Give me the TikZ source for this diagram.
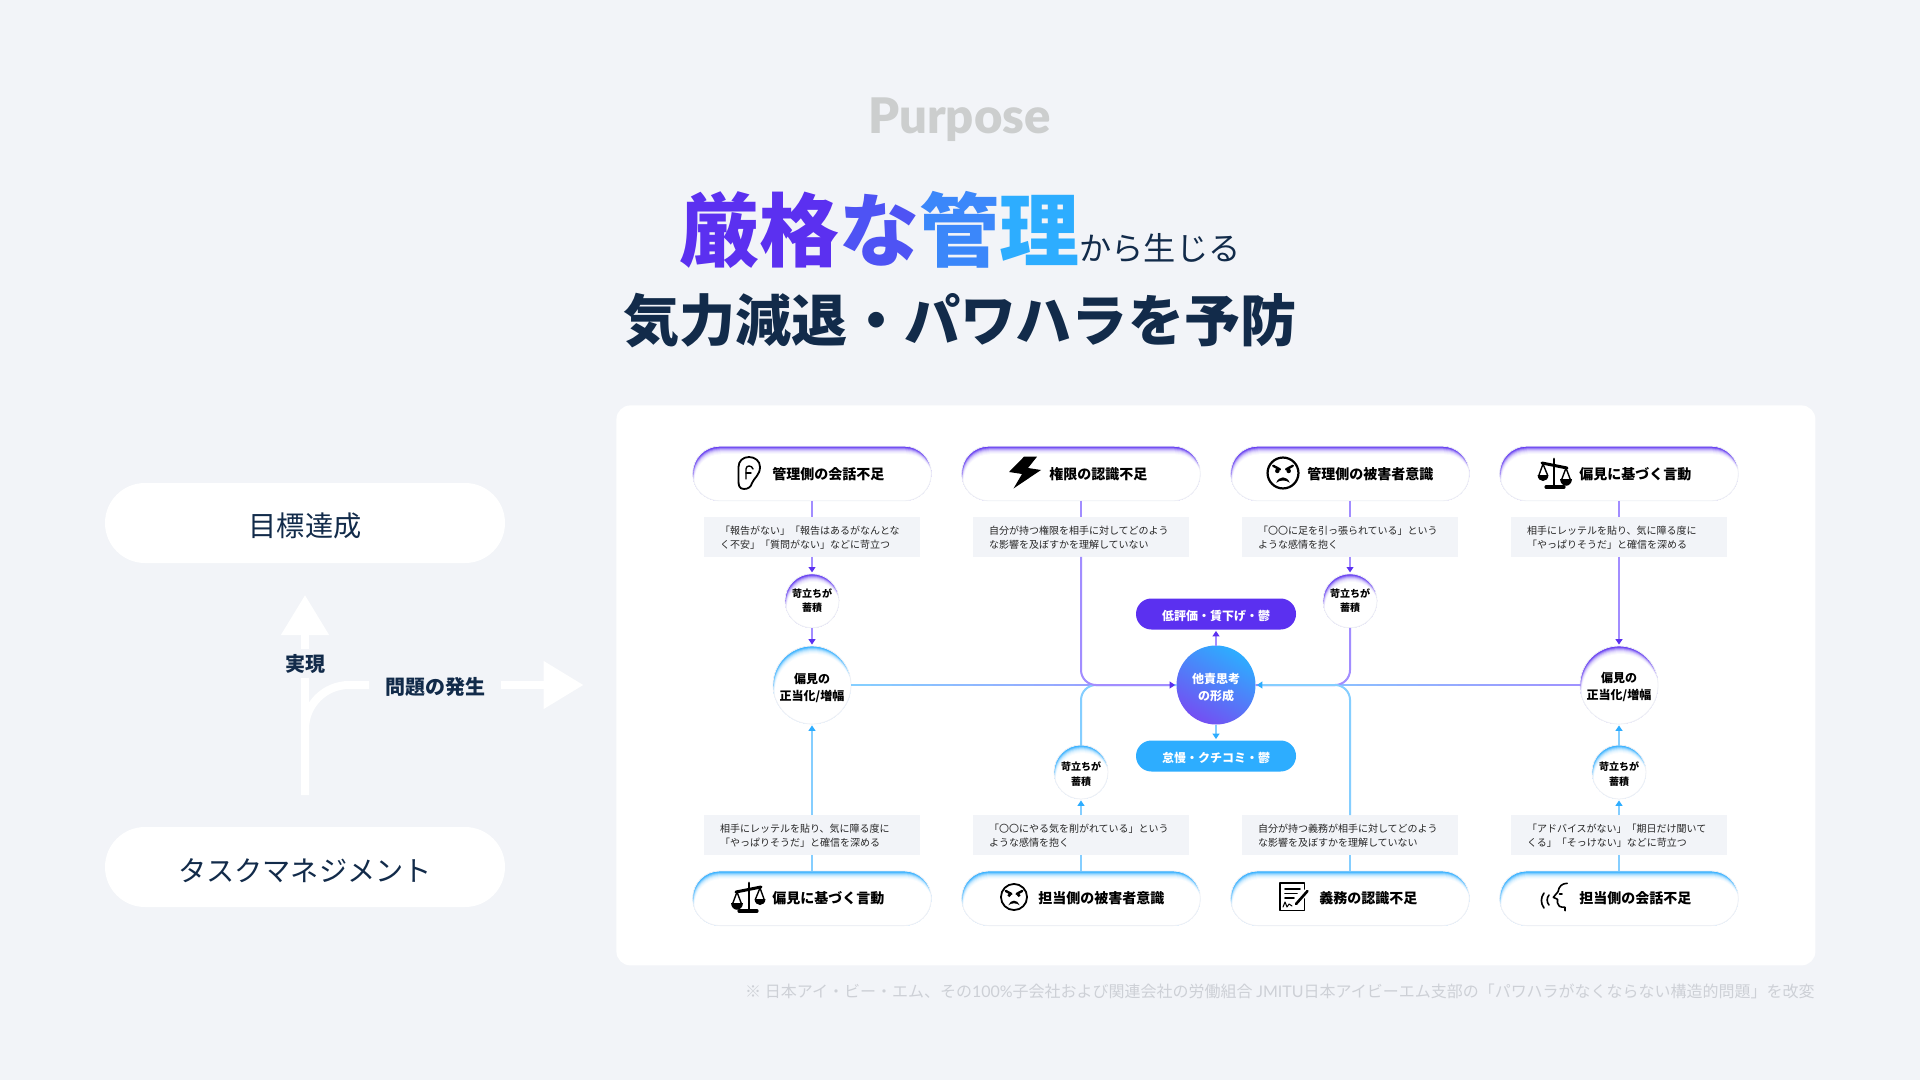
\documentclass[tikz,border=0pt]{standalone}
\usepackage{fontspec}
\setmainfont{Noto Sans CJK JP}
\newfontfamily\latinfont{Lato}
\newfontfamily\latinheavy{Lato Black}
\newfontfamily\heavyfont{Noto Sans CJK JP Black}
\usetikzlibrary{positioning,arrows.meta,calc}
\definecolor{pagebg}{HTML}{F2F4F8}
\definecolor{navy}{HTML}{122B4A}
\definecolor{violetdeep}{HTML}{5B30F0}
\definecolor{skydeep}{HTML}{2DADFF}
\definecolor{violetline}{HTML}{A28DFF}
\definecolor{skyline}{HTML}{85CEFF}
\definecolor{ringgray}{HTML}{EEF0F5}
\definecolor{fadedgray}{HTML}{CCCECE}
\definecolor{sourcegray}{HTML}{CDD0D6}
\newcommand{\dropin}[1]{\rule{0pt}{#1}}
\tikzset{
  glow/.style 2 args = {path picture={
      \fill[#1] (path picture bounding box.south west) rectangle (path picture bounding box.north east);
      \foreach \k/\tint in {1/85,2/62,3/42,4/27,5/16,6/9,7/4,8/0}{
        \fill[#1!\tint!white, rounded corners=#2]
          ($(path picture bounding box.north west)+(0.22*\k,\k)$) rectangle
          ($(path picture bounding box.south east)+(0.22*\k,70)$);
      }}},
  drop/.style    = {execute at begin node={\rule{0pt}{#1}}},
  capsule/.style = {rectangle, rounded corners=13.5pt, draw=ringgray, line width=.4pt, fill=white,
                    minimum width=119.3pt, minimum height=27.3pt, inner sep=0pt, outer sep=0pt},
  caplabel/.style= {anchor=west, inner sep=0pt, font=\fontsize{7}{9}\selectfont\bfseries, text=black},
  note/.style    = {rectangle, fill=pagebg, minimum width=108pt, minimum height=20pt, inner sep=0pt,
                    outer sep=0pt, text width=92pt, align=left, font=\fontsize{5}{7.15}\selectfont, text=black!85,
                    drop=5pt},
  tiny/.style    = {circle, draw=ringgray, line width=.4pt, fill=white, minimum size=27pt, inner sep=0pt,
                    outer sep=0pt, align=center, font=\fontsize{5}{7.15}\selectfont\bfseries, text=black},
  just/.style    = {circle, draw=ringgray, line width=.4pt, fill=white, minimum size=39pt, inner sep=0pt,
                    outer sep=0pt, align=center, font=\fontsize{6}{8.5}\selectfont\bfseries, text=black},
  chip/.style    = {rectangle, rounded corners=7.7pt, minimum width=80pt, minimum height=15.5pt, inner sep=0pt,
                    outer sep=0pt, font=\fontsize{6}{8}\selectfont\bfseries, text=white, drop=7.1pt},
  vlink/.style   = {line width=1pt, draw=violetline},
  slink/.style   = {line width=1pt, draw=skyline},
  vflow/.style   = {vlink, -{Triangle[length=2.7pt,width=3.4pt,color=violetdeep]}, shorten >=.7pt},
  sflow/.style   = {slink, -{Triangle[length=2.7pt,width=3.4pt,color=skydeep]}, shorten >=.7pt},
  tray/.style    = {rectangle, rounded corners=20pt, fill=white, minimum width=200pt, minimum height=40pt,
                    inner sep=0pt, outer sep=0pt, text=navy, font=\fontsize{14.1}{16}\selectfont, drop=14.9pt},
  whiteway/.style= {draw=white, line width=4pt},
  whitehead/.style={whiteway, -{Triangle[length=20pt,width=23pt,color=white]}},
  sidelabel/.style={inner sep=0pt, outer sep=0pt, text=navy, font=\fontsize{10}{12}\selectfont\bfseries},
  iconline/.style= {draw=black, line width=.8pt, line join=round, line cap=round},
}
\newcommand{\balancefig}[3]{%
  \begin{scope}[shift={(#1,#2)},xscale=#3]
    \draw[iconline, line width=1.5pt] (-13,-9) -- (12,-4);
    \draw[iconline, line width=1.4pt] (-1,-13) -- (-1,14);
    \draw[iconline, line width=1.6pt] (-9,15) -- (9,15);
    \draw[iconline, line width=.7pt] (-16,3) -- (-12,-8) -- (-7.5,3);
    \fill (-17.5,3) .. controls (-17,11) and (-7,11) .. (-6.5,3) -- cycle;
    \draw[iconline, line width=.7pt] (6.5,8) -- (11,-4) -- (15.5,8);
    \fill (5,7) .. controls (5.5,16) and (16.5,16) .. (17,7) -- cycle;
  \end{scope}}
\newcommand{\scowlfig}[4]{%
  \begin{scope}[shift={(#1,#2)},scale=#3]
    \draw[iconline, line width=#4] (0,0) circle [radius=15];
    \draw[iconline, line width=1.2pt] (-9.5,-7) -- (-3,-3.5);
    \draw[iconline, line width=1.2pt] (9.5,-7) -- (3,-3.5);
    \fill (-5.5,-2) circle [radius=2.2];
    \fill (5.5,-2) circle [radius=2.2];
    \fill (-6.5,9.5) .. controls (-4,2.5) and (4,2.5) .. (6.5,9.5) .. controls (3,6.5) and (-3,6.5) .. (-6.5,9.5) -- cycle;
  \end{scope}}
\begin{document}
\begin{tikzpicture}[x=.5pt,y=-.5pt]

  \fill[pagebg] (0,0) rectangle (1920,1080);

  % heading
  \node[inner sep=0pt, text=fadedgray, font=\fontsize{24.5}{28}\latinheavy] (purpose) at (959.5,119.5) {Purpose};
  \node[inner sep=0pt] (lineone) at (960,230)
       {{\fontsize{40}{44}\heavyfont\textcolor{violetdeep}{厳格}\textcolor{violetdeep!72!skydeep}{な}\textcolor{violetdeep!30!skydeep}{管}\textcolor{skydeep}{理}}{\fontsize{16.1}{18}\selectfont\textcolor{navy}{から生じる}}};
  \node[inner sep=0pt, text=navy, font=\fontsize{28.05}{32}\heavyfont] (linetwo) at (960,321) {気力減退・パワハラを予防};

  % left side
  \node[tray] (goal) at (305,523) {目標達成};
  \node[tray] (tasks) at (305,867) {タスクマネジメント};
  \node[sidelabel, minimum height=14.5pt] (realize) at (305,663.5) {実現};
  \node[sidelabel] (trouble) at (435,686.5) {問題の発生};
  \coordinate (stem) at (305,795);
  \coordinate (upend) at (305,595);
  \coordinate (bend) at (369,685);
  \coordinate (outstart) at (501,685);
  \coordinate (outend) at (583.5,685);
  \draw[whiteway] (stem) -- (realize.south);
  \draw[whitehead] (realize.north) -- (upend);
  \draw[whiteway, rounded corners=22pt] (stem) |- (bend);
  \draw[whitehead] (outstart) -- (outend);

  % card
  \node[rectangle, fill=white, rounded corners=7pt, minimum width=599.5pt, minimum height=280pt, inner sep=0pt, anchor=north west] (card) at (616,405) {};

  % top row
  \node[capsule, glow={violetdeep}{13.5pt}] (top1) at (812,473.5) {};
  \node[capsule, glow={violetdeep}{13.5pt}] (top2) at (1081,473.5) {};
  \node[capsule, glow={violetdeep}{13.5pt}] (top3) at (1350,473.5) {};
  \node[capsule, glow={violetdeep}{13.5pt}] (top4) at (1619,473.5) {};
  \node[caplabel] (toplab1) at (772,474.5) {管理側の会話不足};
  \node[caplabel] (toplab2) at (1049,474.5) {権限の認識不足};
  \node[caplabel] (toplab3) at (1307,474.5) {管理側の被害者意識};
  \node[caplabel] (toplab4) at (1579,474.5) {偏見に基づく言動};

  \node[note, below=8pt of top1] (note1) {「報告がない」「報告はあるがなんとな\\く不安」「質問がない」などに苛立つ};
  \node[note, below=8pt of top2] (note2) {自分が持つ権限を相手に対してどのよう\\な影響を及ぼすかを理解していない};
  \node[note, below=8pt of top3] (note3) {「〇〇に足を引っ張られている」という\\ような感情を抱く};
  \node[note, below=8pt of top4] (note4) {相手にレッテルを貼り、気に障る度に\\「やっぱりそうだ」と確信を深める};

  \node[tiny, glow={violetdeep}{13.5pt}, below=8.5pt of note1] (tiny1) {苛立ちが\\蓄積};
  \node[tiny, glow={violetdeep}{13.5pt}, below=8.5pt of note3] (tiny3) {苛立ちが\\蓄積};

  % bottom row
  \node[capsule, glow={skydeep}{13.5pt}] (bot1) at (812,898.3) {};
  \node[capsule, glow={skydeep}{13.5pt}] (bot2) at (1081,898.3) {};
  \node[capsule, glow={skydeep}{13.5pt}] (bot3) at (1350,898.3) {};
  \node[capsule, glow={skydeep}{13.5pt}] (bot4) at (1619,898.3) {};
  \node[caplabel] (botlab1) at (772,898) {偏見に基づく言動};
  \node[caplabel] (botlab2) at (1038,898) {担当側の被害者意識};
  \node[caplabel] (botlab3) at (1319,898) {義務の認識不足};
  \node[caplabel] (botlab4) at (1579,898) {担当側の会話不足};

  \node[note, above=8pt of bot1] (note5) {相手にレッテルを貼り、気に障る度に\\「やっぱりそうだ」と確信を深める};
  \node[note, above=8pt of bot2] (note6) {「〇〇にやる気を削がれている」という\\ような感情を抱く};
  \node[note, above=8pt of bot3] (note7) {自分が持つ義務が相手に対してどのよう\\な影響を及ぼすかを理解していない};
  \node[note, above=8pt of bot4] (note8) {「アドバイスがない」「期日だけ聞いて\\くる」「そっけない」などに苛立つ};

  \node[tiny, glow={skydeep}{13.5pt}, above=8pt of note6] (tiny6) {\dropin{6.6pt}苛立ちが\\蓄積};
  \node[tiny, glow={skydeep}{13.5pt}, above=8pt of note8] (tiny8) {\dropin{6.6pt}苛立ちが\\蓄積};

  % middle
  \node[just, glow={skydeep}{19.5pt}] (just1) at (812,685) {\dropin{7.8pt}偏見の\\正当化/増幅};
  \node[just, glow={violetdeep}{19.5pt}] (just4) at (1619,685) {\dropin{7pt}偏見の\\正当化/増幅};
  \node[circle, minimum size=39.5pt, inner sep=0pt, outer sep=0pt, left color=skydeep, right color=violetdeep!85!white,
        shading angle=-30, align=center, text=white, font=\fontsize{6}{8.5}\selectfont\bfseries] (hub) at (1216,685) {\dropin{7.8pt}他責思考\\の形成};
  \node[chip, fill=violetdeep, above=8pt of hub] (chipup) {低評価・賃下げ・鬱};
  \node[chip, fill=skydeep, below=8pt of hub] (chipdown) {怠慢・クチコミ・鬱};

  % links
  \draw[vlink] (top1) -- (note1);
  \draw[vlink] (top2) -- (note2);
  \draw[vlink] (top3) -- (note3);
  \draw[vlink] (top4) -- (note4);
  \draw[vflow] (note1) -- (tiny1);
  \draw[vflow] (tiny1) -- (just1);
  \draw[vflow] (note3) -- (tiny3);
  \draw[vflow] (note4) -- (just4);
  \draw[slink] (bot1) -- (note5);
  \draw[slink] (bot2) -- (note6);
  \draw[slink] (bot3) -- (note7);
  \draw[slink] (bot4) -- (note8);
  \draw[sflow] (note5) -- (just1);
  \draw[sflow] (note6) -- (tiny6);
  \draw[sflow] (note8) -- (tiny8);
  \draw[sflow] (tiny8) -- (just4);
  \draw[vflow] (hub) -- (chipup);
  \draw[sflow] (hub) -- (chipdown);

  \foreach \s in {0,...,15}{
    \pgfmathsetmacro\tint{100-\s*6}
    \draw[slink, draw=skyline!\tint!violetline] ($(just1.east)!\s/16!(hub.west)$) -- ($(just1.east)!\s/16+1/16!(hub.west)$);
    \draw[slink, draw=skyline!\tint!violetline] ($(hub.east)!\s/16!(just4.west)$) -- ($(hub.east)!\s/16+1/16!(just4.west)$);
  }
  \draw[slink, rounded corners=7.5pt] (tiny6.north) |- (hub.west);
  \draw[vflow, rounded corners=7.5pt] (note2.south) |- (hub.west);
  \draw[vlink, rounded corners=7.5pt] (tiny3.south) |- (hub.east);
  \draw[sflow, rounded corners=7.5pt] (note7.north) |- (hub.east);

  % icons
  \draw[iconline, line width=.9pt] (744,489) .. controls (739,489) and (738.5,485) .. (738.5,481) -- (738.5,467) .. controls (738.5,461) and (743,457) .. (749,457) .. controls (755,457) and (760,461) .. (760,467) .. controls (760,475) and (754,478) .. (752,483) .. controls (751,487) and (748,489) .. (744,489) -- cycle;
  \draw[iconline, line width=.7pt] (746,479) -- (746,469) .. controls (746,465) and (752,465) .. (753,469);
  \draw[iconline, line width=.7pt] (746,473) -- (751,473);
  \fill (1024,456.7) -- (1037,456.7) -- (1028,468) -- (1041,470) -- (1013.5,488.5) -- (1022,474) -- (1009,472) -- cycle;
  \scowlfig{1283}{473}{1.03}{1.1pt}
  \balancefig{1555}{472}{1}
  \balancefig{748}{896}{-1}
  \scowlfig{1014}{897}{.87}{.9pt}
  \draw[iconline, line width=.9pt] (1304.5,889) -- (1304.5,883) -- (1280,883) -- (1280,910.5) -- (1304.5,910.5) -- (1304.5,899);
  \draw[iconline] (1285,889) -- (1300,889) (1285,893.5) -- (1297,893.5) (1285,898) -- (1294,898);
  \draw[iconline, line width=1.3pt] (1307.5,891) -- (1296,904);
  \draw[iconline, line width=.5pt] (1283,907) -- (1285,902) -- (1287,907) -- (1289,904) -- (1292,906);
  \draw[iconline] (1567.2,883.3) .. controls (1562,883.5) and (1559,886) .. (1558,891.7) -- (1553.3,897.3) -- (1557.5,899.3) -- (1557.5,903) .. controls (1557.5,906) and (1560,907.3) .. (1565,907.3) -- (1565,910.7);
  \draw[iconline] (1559.5,894) -- (1562,894);
  \draw[iconline] (1544,893) .. controls (1540.5,898) and (1540.5,903) .. (1544,908);
  \draw[iconline] (1549,895) .. controls (1546.5,898) and (1546.5,902) .. (1549,905);

  % source
  \node[anchor=east, inner sep=0pt, text=sourcegray, font=\fontsize{8}{10}\selectfont] (source) at (1815,991)
       {※ 日本アイ・ビー・エム、その{\latinfont 100\%}子会社および関連会社の労働組合 {\latinfont JMITU}日本アイビーエム支部の「パワハラがなくならない構造的問題」を改変};

\end{tikzpicture}
\end{document}
